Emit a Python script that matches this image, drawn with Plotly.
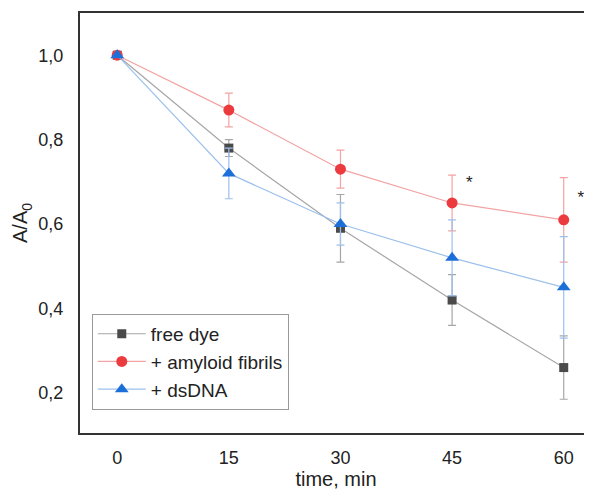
import plotly.graph_objects as go

time_min = [0, 15, 30, 45, 60]
free_dye = [1.0, 0.78, 0.59, 0.42, 0.26]
free_dye_err = [0.0, 0.02, 0.08, 0.06, 0.075]
amyloid = [1.0, 0.87, 0.73, 0.65, 0.61]
amyloid_err = [0.0, 0.04, 0.045, 0.066, 0.10]
dsdna = [1.0, 0.72, 0.60, 0.52, 0.45]
dsdna_err = [0.0, 0.06, 0.05, 0.09, 0.12]
star_x = [47.3, 62.3]
star_y = [0.695, 0.66]
y_ticks = [0.2, 0.4, 0.6, 0.8, 1.0]

fig = go.Figure()
series = [
    ("free dye", free_dye, free_dye_err, "#a6a6a6", "#4a4a4a", "square", 9),
    ("+ amyloid fibrils", amyloid, amyloid_err, "#f3a3a3", "#ec3b3f", "circle", 11),
    ("+ dsDNA", dsdna, dsdna_err, "#9cc0ec", "#1c6fd9", "triangle-up", 12),
]
for name, vals, err, lc, mc, sym, sz in series:
    fig.add_trace(go.Scatter(
        x=time_min, y=vals, name=name, mode="lines+markers",
        line=dict(color=lc, width=1.2),
        marker=dict(color=mc, symbol=sym, size=sz),
        error_y=dict(type="data", array=err, color=lc, thickness=1.2, width=4),
        cliponaxis=False,
    ))

fig.add_trace(go.Scatter(
    x=star_x, y=star_y, mode="text", text=["*"] * len(star_x),
    textfont=dict(size=17, color="#222"), showlegend=False, cliponaxis=False,
    hoverinfo="skip",
))

# The page body has an 8px margin, so the figure is sized/offset to compensate.
fig.update_layout(
    width=584, height=489,
    margin=dict(l=72, r=0, t=5, b=64),
    paper_bgcolor="white", plot_bgcolor="white",
    separators=", ",
    font=dict(family="Liberation Sans, Arial, sans-serif", color="#222"),
    showlegend=True,
    legend=dict(x=0.023, y=0.055, xanchor="left", yanchor="bottom",
                bordercolor="#999", borderwidth=1, bgcolor="white",
                font=dict(size=19), itemwidth=48, tracegroupgap=0),
    xaxis=dict(range=[-5, 63.8], tickvals=time_min, showgrid=False, zeroline=False,
               showline=True, mirror=True, linecolor="#333", linewidth=2,
               ticks="outside", ticklen=7, tickcolor="rgba(0,0,0,0)",
               tickfont=dict(size=18), automargin=False,
               title=dict(text="time, min", font=dict(size=20), standoff=4)),
    yaxis=dict(range=[0.105, 1.1], tickvals=y_ticks, tickformat=".1f",
               showgrid=False, zeroline=False,
               showline=True, linecolor="#333", linewidth=2,
               ticks="outside", ticklen=11, tickcolor="rgba(0,0,0,0)",
               tickfont=dict(size=18), automargin=False,
               title=dict(text="A/A<sub>0</sub>", font=dict(size=20), standoff=5)),
)

fig.write_html("out.html")
